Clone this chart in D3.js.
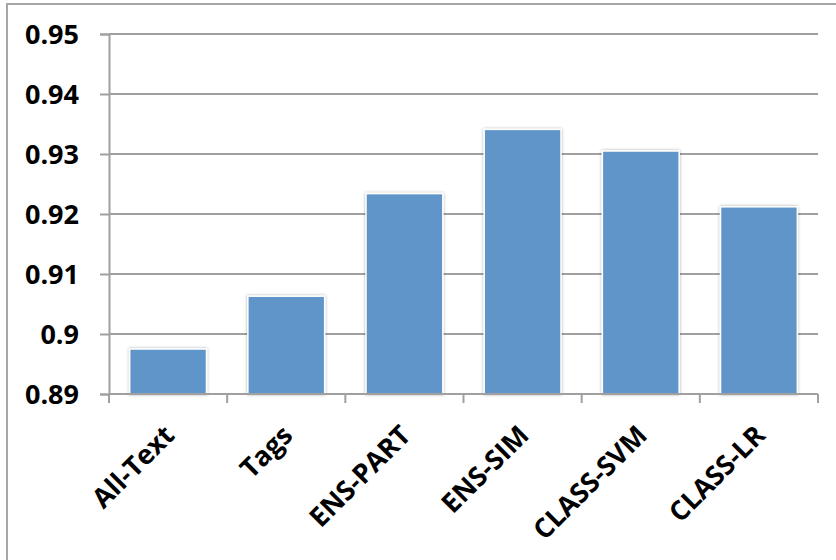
<!DOCTYPE html>
<html>
<head>
<meta charset="utf-8">
<script src="https://cdn.jsdelivr.net/npm/d3@7"></script>
<style>
  body { margin: 0; background: #fff; }
  svg { display: block; }
  .tick-label { font-family: "Open Sans", sans-serif; font-weight: 700; font-size: 27px; fill: #000; }
</style>
</head>
<body>
<script>
// chart data
const categories = ['All-Text', 'Tags', 'ENS-PART', 'ENS-SIM', 'CLASS-SVM', 'CLASS-LR'];
const values = [0.8975, 0.9063, 0.9234, 0.9341, 0.9305, 0.9212];
const yTicks = [0.89, 0.90, 0.91, 0.92, 0.93, 0.94, 0.95];
const yTickLabels = ['0.89', '0.9', '0.91', '0.92', '0.93', '0.94', '0.95'];

const W = 836, H = 560;
const plot = { left: 109, right: 818, top: 34, bottom: 394 };
const gridColor = '#a0a0a0';

const svg = d3.select('body').append('svg')
  .attr('width', W)
  .attr('height', H);

// soft shadow behind bars
const defs = svg.append('defs');
defs.append('filter')
  .attr('id', 'barShadow')
  .attr('x', '-10%').attr('y', '-10%')
  .attr('width', '120%').attr('height', '120%')
  .append('feDropShadow')
  .attr('dx', 0).attr('dy', 0)
  .attr('stdDeviation', 1.6)
  .attr('flood-color', '#000')
  .attr('flood-opacity', 0.35);

// outer chart border
svg.append('rect')
  .attr('x', 7).attr('y', 4)
  .attr('width', 860).attr('height', 600)
  .attr('fill', 'none')
  .attr('stroke', '#a6a6a6')
  .attr('stroke-width', 2);

const x = d3.scaleBand()
  .domain(categories)
  .range([plot.left, plot.right])
  .paddingInner(0.35)
  .paddingOuter(0.175);

const y = d3.scaleLinear()
  .domain([0.89, 0.95])
  .range([plot.bottom, plot.top]);

// horizontal gridlines
svg.append('g')
  .selectAll('line')
  .data(yTicks.slice(1))
  .join('line')
  .attr('x1', plot.left).attr('x2', plot.right)
  .attr('y1', d => y(d)).attr('y2', d => y(d))
  .attr('stroke', gridColor)
  .attr('stroke-width', 2);

// y axis
const yAxis = svg.append('g')
  .attr('transform', `translate(${plot.left},0)`)
  .call(d3.axisLeft(y)
    .tickValues(yTicks)
    .tickFormat((d, i) => yTickLabels[i])
    .tickSize(9)
    .tickPadding(21));
yAxis.select('.domain').attr('stroke', gridColor).attr('stroke-width', 2);
yAxis.selectAll('.tick line').attr('stroke', gridColor).attr('stroke-width', 2);
yAxis.selectAll('.tick text')
  .attr('class', 'tick-label')
  .attr('dy', '0.36em');

// bars
svg.append('g')
  .selectAll('rect')
  .data(values)
  .join('rect')
  .attr('x', (d, i) => x(categories[i]))
  .attr('y', d => y(d))
  .attr('width', x.bandwidth())
  .attr('height', d => y(0.89) - y(d))
  .attr('fill', '#5f95c9')
  .attr('stroke', '#ffffff')
  .attr('stroke-width', 1.5)
  .attr('filter', 'url(#barShadow)');

// x axis line and category boundary ticks
const step = x.step();
const boundaries = d3.range(categories.length + 1).map(i => plot.left + i * step);
svg.append('line')
  .attr('x1', plot.left).attr('x2', plot.right)
  .attr('y1', plot.bottom).attr('y2', plot.bottom)
  .attr('stroke', gridColor)
  .attr('stroke-width', 2);
svg.append('g')
  .selectAll('line')
  .data(boundaries)
  .join('line')
  .attr('x1', d => d).attr('x2', d => d)
  .attr('y1', plot.bottom).attr('y2', plot.bottom + 9)
  .attr('stroke', gridColor)
  .attr('stroke-width', 2);

// rotated category labels
svg.append('g')
  .selectAll('text')
  .data(categories)
  .join('text')
  .attr('class', 'tick-label')
  .attr('text-anchor', 'end')
  .attr('transform', d => `translate(${x(d) + x.bandwidth() / 2 + 8},${plot.bottom + 43}) rotate(-45)`)
  .text(d => d);
</script>
</body>
</html>
